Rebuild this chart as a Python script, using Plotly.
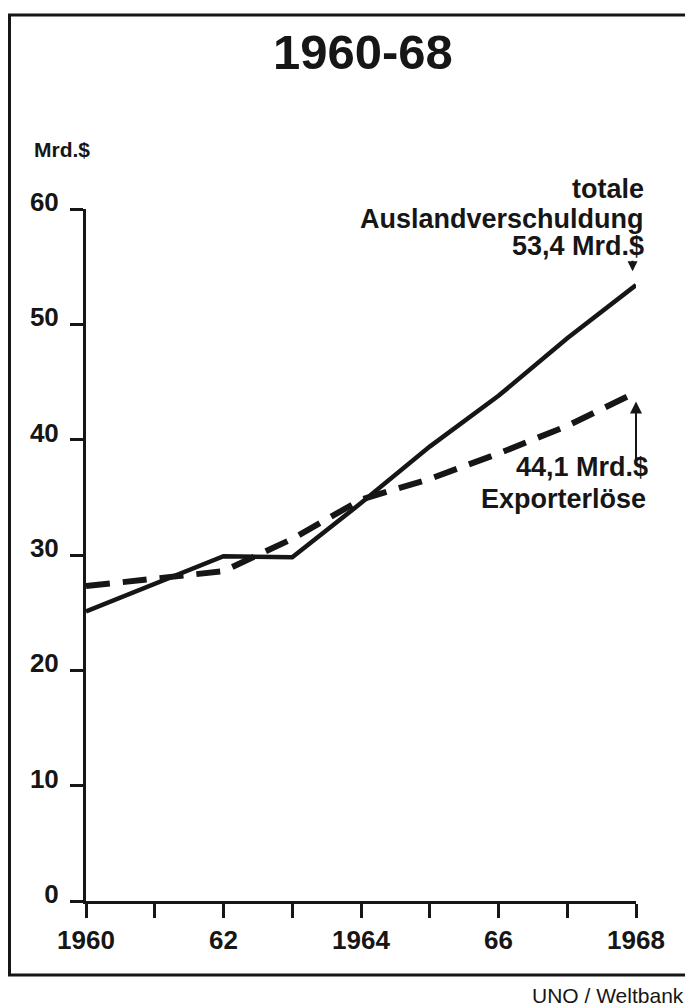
"""Auslandverschuldung vs. Exporterlöse 1960-68 (UNO / Weltbank) — Nachbau."""
import plotly.graph_objects as go

# Seite 693x1008, der Plot-div sitzt wegen body-margin bei (8, 8)
OX, OY = 8, 8
W, H = 685, 1000
# Plotbereich in Seitenpixeln
PL, PR, PT, PB = 86, 636, 209, 901

years = [1960, 1961, 1962, 1963, 1964, 1965, 1966, 1967, 1968]
debt = [25.1, 27.5, 29.9, 29.8, 34.5, 39.4, 43.8, 48.8, 53.4]      # totale Auslandverschuldung
exports = [27.3, 27.9, 28.6, 31.4, 34.8, 36.6, 38.8, 41.2, 44.1]   # Exporterlöse
x_ticktext = ["1960", "", "62", "", "1964", "", "66", "", "1968"]
y_tickvals = [0, 10, 20, 30, 40, 50, 60]

INK = "#161616"
FONT = "Liberation Sans, Arial, sans-serif"


def px(x):
    return (x - PL) / (PR - PL)


def py(y):
    return (PB - y) / (PB - PT)


fig = go.Figure()
fig.add_trace(go.Scatter(
    x=years, y=debt, mode="lines", name="totale Auslandverschuldung",
    line=dict(color=INK, width=4.5),
))
fig.add_trace(go.Scatter(
    x=years, y=exports, mode="lines", name="Exporterlöse",
    line=dict(color=INK, width=6, dash="24px,13px"),
))

fig.update_xaxes(
    range=[1960, 1968], tickvals=years, ticktext=x_ticktext,
    showgrid=False, zeroline=False, showline=True, linecolor=INK, linewidth=3,
    ticks="outside", ticklen=14, tickwidth=2.5, tickcolor=INK, ticklabelstandoff=0,
    tickfont=dict(family=FONT, size=26, color=INK, weight="bold"),
)
fig.update_yaxes(
    range=[0, 60], tickvals=y_tickvals,
    showgrid=False, zeroline=False, showline=True, linecolor=INK, linewidth=3,
    ticks="outside", ticklen=13, tickwidth=2.5, tickcolor=INK,
    ticklabelshift=-7, ticklabelstandoff=6,
    tickfont=dict(family=FONT, size=26, color=INK, weight="bold"),
)

# Rahmen
fig.add_shape(type="rect", xref="paper", yref="paper",
              x0=px(9.5), x1=px(689), y0=py(975), y1=py(15),
              line=dict(color=INK, width=3))

bold = dict(family=FONT, color=INK, weight="bold")


def label(text, x, y, size=27, xanchor="right", font=None):
    fig.add_annotation(text=text, xref="paper", yref="paper", x=px(x), y=py(y),
                       xanchor=xanchor, yanchor="middle", showarrow=False,
                       font=font or dict(size=size, **bold))


label("1960-68", 363, 52, xanchor="center", font=dict(size=49, **bold))
label("Mrd.$", 32, 149, size=21, xanchor="left")
label("totale", 646, 189)
label("Auslandverschuldung", 646, 219)
label("53,4 Mrd.$", 646, 246)
label("44,1 Mrd.$", 650, 467)
label("Exporterlöse", 648, 499)
label("UNO / Weltbank", 686, 995, font=dict(family=FONT, size=21, color=INK))

# Pfeile
fig.add_annotation(text="", x=1967.95, y=54.6, ax=0, ay=-12, showarrow=True,
                   arrowhead=2, arrowsize=1, arrowwidth=2, arrowcolor=INK)
fig.add_annotation(text="", x=1968, y=43.3, ax=0, ay=60, showarrow=True,
                   arrowhead=2, arrowsize=1.2, arrowwidth=2, arrowcolor=INK)

fig.update_layout(
    width=W, height=H, showlegend=False,
    paper_bgcolor="white", plot_bgcolor="white",
    margin=dict(l=PL - OX, r=OX + W - PR, t=PT - OY, b=OY + H - PB),
)
fig.write_html("out.html")
